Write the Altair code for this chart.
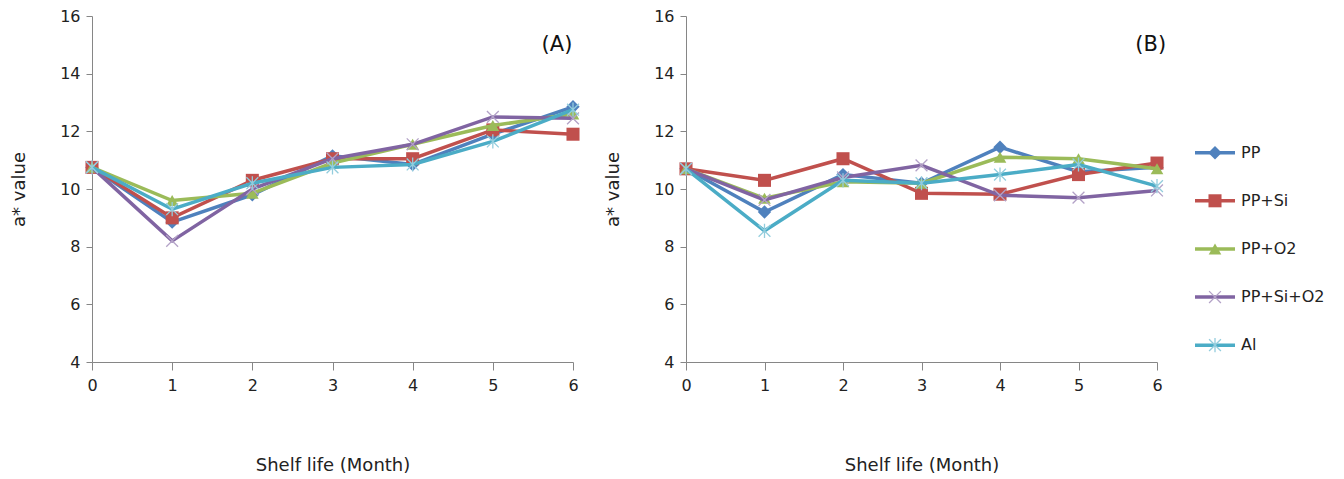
import altair as alt
import pandas as pd

months = [0, 1, 2, 3, 4, 5, 6]
series = ["PP", "PP+Si", "PP+O2", "PP+Si+O2", "Al"]
colors = ["#4F81BD", "#C0504D", "#9BBB59", "#8064A2", "#4BACC6"]
marker_colors = ["#4F81BD", "#C0504D", "#9BBB59", "#B3A2C7", "#93CDDD"]

a_pp = [10.75, 8.85, 9.8, 11.15, 10.85, 11.9, 12.85]
a_ppsi = [10.75, 9.0, 10.3, 11.05, 11.05, 12.05, 11.9]
a_ppo2 = [10.75, 9.6, 9.85, 10.9, 11.55, 12.2, 12.6]
a_ppsio2 = [10.75, 8.2, 10.0, 11.05, 11.55, 12.5, 12.45]
a_al = [10.75, 9.3, 10.2, 10.75, 10.85, 11.65, 12.75]

b_pp = [10.7, 9.2, 10.5, 10.2, 11.45, 10.6, 10.75]
b_ppsi = [10.7, 10.3, 11.05, 9.85, 9.82, 10.5, 10.9]
b_ppo2 = [10.7, 9.68, 10.25, 10.2, 11.1, 11.05, 10.7]
b_ppsio2 = [10.7, 9.62, 10.4, 10.82, 9.78, 9.7, 9.95]
b_al = [10.7, 8.55, 10.3, 10.2, 10.5, 10.85, 10.1]

panel_a = [a_pp, a_ppsi, a_ppo2, a_ppsio2, a_al]
panel_b = [b_pp, b_ppsi, b_ppo2, b_ppsio2, b_al]

shapes = [
    "diamond",
    "square",
    "triangle-up",
    "M-1,-1L1,1M-1,1L1,-1",
    "M-1,-1L1,1M-1,1L1,-1M0,-1.2L0,1.2",
]
filled = [True, True, True, False, False]
sizes = [180, 170, 160, 140, 140]

FONT = "DejaVu Sans"
TXT = "#222222"


def make_df(panel):
    rows = []
    for s, vals in zip(series, panel):
        for m, v in zip(months, vals):
            rows.append({"month": m, "value": v, "series": s})
    return pd.DataFrame(rows)


def panel_chart(panel, label, lx, w):
    df = make_df(panel)
    xs = alt.X("month:Q", scale=alt.Scale(domain=[0, 6], nice=False),
               axis=alt.Axis(values=months, format="d", title="Shelf life (Month)", grid=False,
                             tickSize=8, labelPadding=7, titlePadding=63, labelFlush=False,
                             domainColor="#868686", tickColor="#868686",
                             labelFontSize=16, titleFontSize=18, labelFont=FONT,
                             titleFont=FONT, labelColor=TXT, titleColor=TXT,
                             titleFontWeight="normal"))
    ys = alt.Y("value:Q", scale=alt.Scale(domain=[4, 16], nice=False),
               axis=alt.Axis(values=[4, 6, 8, 10, 12, 14, 16], title="a* value",
                             grid=False, tickSize=6, labelPadding=6, titlePadding=31,
                             domainColor="#868686", tickColor="#868686",
                             labelFontSize=16, titleFontSize=18, labelFont=FONT,
                             titleFont=FONT, labelColor=TXT, titleColor=TXT,
                             titleFontWeight="normal"))
    layers = []
    for i, s in enumerate(series):
        d = df[df.series == s]
        base = alt.Chart(d)
        layers.append(base.mark_line(color=colors[i], strokeWidth=3.5).encode(x=xs, y=ys))
        layers.append(base.mark_point(shape=shapes[i], filled=filled[i],
                                      color=marker_colors[i], size=sizes[i],
                                      opacity=1, strokeWidth=1.3).encode(x=xs, y=ys))
    lab = pd.DataFrame({"month": [lx], "value": [15.0], "t": [label]})
    layers.append(alt.Chart(lab).mark_text(font=FONT, fontSize=21, color="#111").encode(
        x="month:Q", y="value:Q", text="t:N"))
    return alt.layer(*layers).properties(width=w, height=346)


left = panel_chart(panel_a, "(A)", 5.8, 481)
right = panel_chart(panel_b, "(B)", 5.92, 471)

leg = pd.DataFrame({"i": list(range(5)), "series": series})
XD = [0, 2.5]
ly = alt.Y("i:Q", scale=alt.Scale(domain=[-2.84, 4.35], reverse=True, nice=False, zero=False), axis=None)
leg_layers = []
for i, s in enumerate(series):
    d = leg[leg.series == s].assign(x=0, x2=1, xm=0.5, xt=1.15)
    b = alt.Chart(d)
    leg_layers.append(b.mark_rule(color=colors[i], strokeWidth=3.5).encode(
        x=alt.X("x:Q", scale=alt.Scale(domain=XD), axis=None), x2="x2:Q", y=ly))
    leg_layers.append(b.mark_point(shape=shapes[i], filled=filled[i], color=marker_colors[i],
                                   size=sizes[i], opacity=1, strokeWidth=1.3).encode(
        x=alt.X("xm:Q", scale=alt.Scale(domain=XD), axis=None), y=ly))
    leg_layers.append(b.mark_text(align="left", font=FONT, fontSize=16, color=TXT).encode(
        x=alt.X("xt:Q", scale=alt.Scale(domain=XD), axis=None), y=ly, text="series:N"))
legend = alt.layer(*leg_layers).properties(width=100, height=346)

panels = alt.HConcatChart(hconcat=[left, right], spacing=113, bounds="flush").resolve_scale(
    x="independent", y="independent")
chart = alt.HConcatChart(hconcat=[panels, legend], spacing=26, bounds="full").properties(
    padding={"left": 2, "top": 0, "right": 0, "bottom": 0}
).configure_view(stroke=None)
chart.save("out.html", embed_options={"renderer": "svg", "actions": False})
